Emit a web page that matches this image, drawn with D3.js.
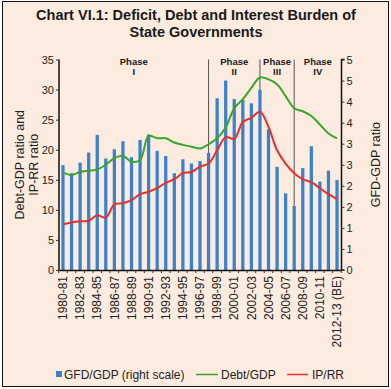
<!DOCTYPE html>
<html>
<head>
<meta charset="utf-8">
<script src="https://cdn.jsdelivr.net/npm/d3@7"></script>
<style>
  html, body { margin: 0; padding: 0; background: #fff; }
  svg { display: block; font-family: "Liberation Sans", Arial, sans-serif; }
</style>
</head>
<body>
<div id="chart"></div>
<script>
// years on the x axis
const years = ["1980-81","1981-82","1982-83","1983-84","1984-85","1985-86","1986-87","1987-88",
  "1988-89","1989-90","1990-91","1991-92","1992-93","1993-94","1994-95","1995-96","1996-97",
  "1997-98","1998-99","1999-00","2000-01","2001-02","2002-03","2003-04","2004-05","2005-06",
  "2006-07","2007-08","2008-09","2009-10","2010-11","2011-12","2012-13 (BE)"];

// GFD/GDP, right scale
const gfdGdp = [2.49,2.30,2.55,2.79,3.21,2.65,2.87,3.06,2.68,3.09,3.22,2.83,2.71,2.30,2.63,2.53,
  2.59,2.78,4.08,4.50,4.06,4.04,3.96,4.28,3.34,2.45,1.82,1.52,2.42,2.94,2.10,2.36,2.14];

// Debt/GDP, left scale
const debtGdp = [16.2,15.8,16.3,16.5,16.7,17.5,18.6,19.0,18.0,18.3,22.3,21.9,21.9,21.2,20.8,20.5,
  20.2,20.9,21.9,23.7,26.9,28.4,30.3,32.0,31.7,30.9,28.9,26.9,26.4,25.6,24.2,22.7,21.9];

// IP/RR, left scale
const ipRr = [7.6,7.9,8.1,8.2,9.1,8.7,10.9,11.1,11.6,12.6,13.0,13.6,14.5,15.1,16.1,16.3,
  17.2,17.7,19.9,22.1,21.8,24.6,25.3,26.3,23.8,19.9,17.7,16.1,15.1,14.6,13.6,12.6,11.8];

// phase boundaries and labels
const phaseBreaks = ["1997-98","2003-04","2007-08"];
const phaseNames = ["I","II","III","IV"];

const leftTicks = d3.range(0, 36, 5);
const rightTicks = d3.range(0, 5.01, 0.5);

const W = 391, H = 389;
const plot = { left: 59, right: 341.5, top: 59.5, bottom: 270 };

const svg = d3.select("#chart").append("svg")
  .attr("width", W).attr("height", H);

svg.append("rect")
  .attr("x", 2.5).attr("y", 1.5).attr("width", 386).attr("height", 385)
  .attr("fill", "#fcecdf").attr("stroke", "#111").attr("stroke-width", 1);

// title
const title = svg.append("text").attr("text-anchor", "middle")
  .attr("font-weight", "bold").attr("font-size", 14.5).attr("fill", "#1a1a1a");
title.append("tspan").attr("x", 196).attr("y", 20).text("Chart VI.1: Deficit, Debt and Interest Burden of");
title.append("tspan").attr("x", 196).attr("y", 37).text("State Governments");

const x = d3.scaleBand().domain(years).range([58.7, 341.3]).paddingInner(0.62).paddingOuter(0.31);
const yL = d3.scaleLinear().domain([0, 35]).range([plot.bottom, plot.top]);
const yR = d3.scaleLinear().domain([0, 5]).range([plot.bottom, plot.top]);
const cx = d => x(d) + x.bandwidth() / 2;

// phase separators
const breakX = phaseBreaks.map(cx);
svg.append("g").selectAll("line").data(breakX).enter().append("line")
  .attr("x1", d => d).attr("x2", d => d)
  .attr("y1", plot.top).attr("y2", plot.bottom)
  .attr("stroke", "#555").attr("stroke-width", 1);

// bars
svg.append("g").selectAll("rect").data(gfdGdp).enter().append("rect")
  .attr("x", (d, i) => x(years[i]))
  .attr("y", d => yR(d))
  .attr("width", x.bandwidth())
  .attr("height", d => yR(0) - yR(d))
  .attr("fill", "#3b82cc");

// lines
const line = d3.line()
  .x((d, i) => cx(years[i]))
  .y(d => yL(d))
  .curve(d3.curveCatmullRom.alpha(0.5));

svg.append("path").datum(debtGdp).attr("d", line)
  .attr("fill", "none").attr("stroke", "#3aa52c").attr("stroke-width", 2);
svg.append("path").datum(ipRr).attr("d", line)
  .attr("fill", "none").attr("stroke", "#e8302a").attr("stroke-width", 2);

// phase labels
const edges = [plot.left].concat(breakX, [plot.right]);
const phases = svg.append("g").attr("text-anchor", "middle")
  .attr("font-weight", "bold").attr("font-size", 9.5).attr("fill", "#1a1a1a");
phaseNames.forEach((p, i) => {
  const mx = (edges[i] + edges[i + 1]) / 2;
  phases.append("text").attr("x", mx).attr("y", 65).text("Phase");
  phases.append("text").attr("x", mx).attr("y", 74.5).text(p);
});

// axes
const leftAxis = svg.append("g").attr("transform", `translate(${plot.left},0)`)
  .call(d3.axisLeft(yL).tickValues(leftTicks).tickSize(3).tickPadding(2));
const rightAxis = svg.append("g").attr("transform", `translate(${plot.right},0)`)
  .call(d3.axisRight(yR).tickValues(rightTicks).tickSize(3).tickPadding(2)
    .tickFormat(d => Math.round(d + 1e-9)));
const bottomAxis = svg.append("g").attr("transform", `translate(0,${plot.bottom})`)
  .call(d3.axisBottom(x).tickSize(0).tickFormat((d, i) => i % 2 === 0 ? d : ""));

[leftAxis, rightAxis, bottomAxis].forEach(a => {
  a.select(".domain").attr("stroke", "#111").attr("stroke-width", 1.5);
  a.selectAll(".tick line").attr("stroke", "#333");
  a.selectAll("text").attr("font-size", 11).attr("fill", "#222")
    .attr("font-family", "'Liberation Sans', Arial, sans-serif");
});
leftAxis.select(".domain").attr("d", `M0,${plot.top}V${plot.bottom}`);
rightAxis.select(".domain").attr("d", `M3,${plot.top}H0V${plot.bottom}H3`);

bottomAxis.selectAll(".tick text")
  .attr("font-size", 12)
  .attr("text-anchor", "end")
  .attr("transform", "rotate(-90)")
  .attr("x", -6).attr("y", 0).attr("dy", "0.35em");

// small ticks between categories
const step = x.step();
bottomAxis.append("g").selectAll("line").data(d3.range(years.length + 1)).enter().append("line")
  .attr("x1", i => 58.7 + i * step).attr("x2", i => 58.7 + i * step)
  .attr("y1", 0).attr("y2", 3).attr("stroke", "#333");

// axis titles
const lt = svg.append("text").attr("text-anchor", "middle").attr("font-size", 12.5).attr("fill", "#222")
  .attr("transform", `translate(0,${(plot.top + plot.bottom) / 2}) rotate(-90)`);
lt.append("tspan").attr("x", 0).attr("y", 24).text("Debt-GDP ratio and");
lt.append("tspan").attr("x", 0).attr("y", 38).text("IP-RR ratio");

svg.append("text").attr("text-anchor", "middle").attr("font-size", 12.5).attr("fill", "#222")
  .attr("transform", `translate(380,${(plot.top + plot.bottom) / 2}) rotate(-90)`)
  .text("GFD-GDP ratio");

// legend
const lg = svg.append("g").attr("font-size", 12).attr("fill", "#222");
lg.append("rect").attr("x", 56).attr("y", 371).attr("width", 6).attr("height", 6).attr("fill", "#3b82cc");
lg.append("text").attr("x", 64).attr("y", 379).text("GFD/GDP (right scale)");
lg.append("line").attr("x1", 196).attr("x2", 218).attr("y1", 374.5).attr("y2", 374.5)
  .attr("stroke", "#3aa52c").attr("stroke-width", 1.5);
lg.append("text").attr("x", 221).attr("y", 379).text("Debt/GDP");
lg.append("line").attr("x1", 287).attr("x2", 308).attr("y1", 374.5).attr("y2", 374.5)
  .attr("stroke", "#e8302a").attr("stroke-width", 1.5);
lg.append("text").attr("x", 312).attr("y", 379).text("IP/RR");
</script>
</body>
</html>
